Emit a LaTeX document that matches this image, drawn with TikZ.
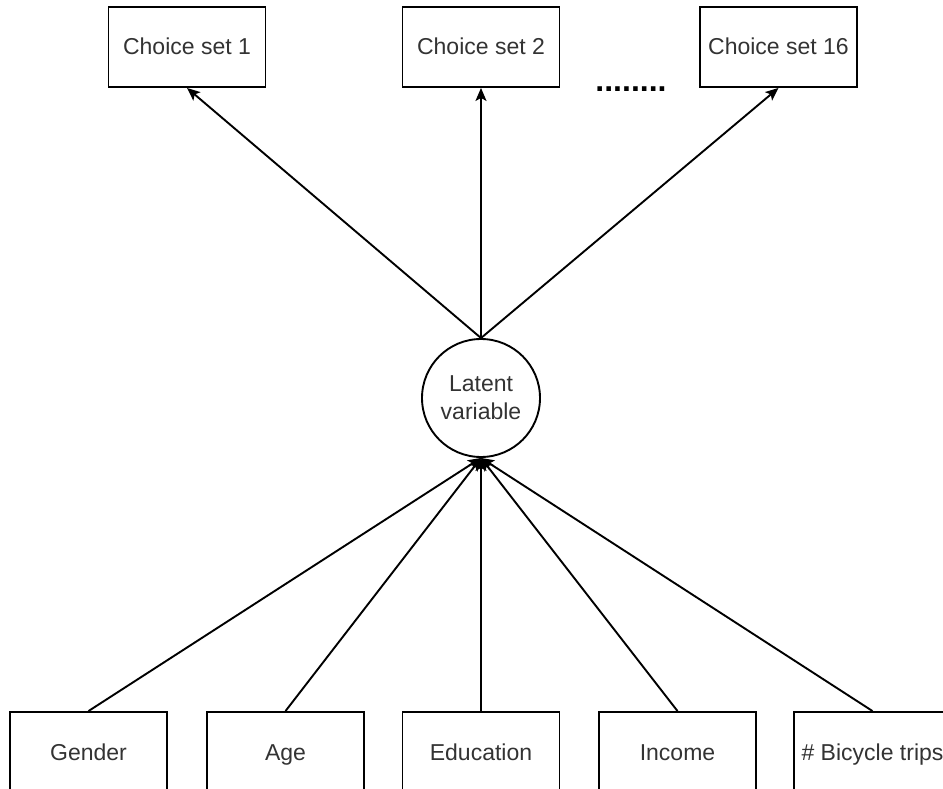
\documentclass[tikz,border=0pt]{standalone}
\usepackage{fontspec}
\setmainfont{Liberation Sans}
\usetikzlibrary{arrows.meta}
\begin{document}
\begin{tikzpicture}[x=1pt,y=-1pt,
  box/.style={draw=black,line width=1.9pt,minimum width=157pt,minimum height=80pt,inner sep=0pt,text height=20pt,text depth=4pt,font=\fontsize{23}{28}\selectfont,text=black!80},
  latent/.style={draw=black,line width=1.9pt,circle,minimum size=118pt,inner sep=0pt,align=center,font=\fontsize{23}{28}\selectfont,text=black!80},
  conn/.style={line width=1.9pt,-{Stealth[length=13pt,width=11pt,inset=3pt]}}]
\useasboundingbox (0,0) rectangle (943,789);
\clip (0,0) rectangle (943,789);
\fill[white] (0,0) rectangle (943,789);
\node[box] (c1) at (187,47) {Choice set 1};
\node[box] (c2) at (481,47) {Choice set 2};
\node[box] (c16) at (778.5,47) {Choice set 16};
\node[font=\fontsize{32}{36}\selectfont\bfseries,inner sep=0pt,anchor=base] (dots) at (631,92) {........};
\node[latent] (lv) at (481,398) {Latent\\variable};
\node[box] (g) at (88.5,752) {Gender};
\node[box] (a) at (285.5,752) {Age};
\node[box] (e) at (481,752) {Education};
\node[box] (i) at (677.5,752) {Income};
\node[box] (b) at (872.5,752) {\# Bicycle trips};
\draw[conn] (lv.north) -- (c1.south);
\draw[conn] (lv.north) -- (c2.south);
\draw[conn] (lv.north) -- (c16.south);
\foreach \n in {g,a,e,i,b} \draw[conn] (\n.north) -- (lv.south);
\end{tikzpicture}
\end{document}
